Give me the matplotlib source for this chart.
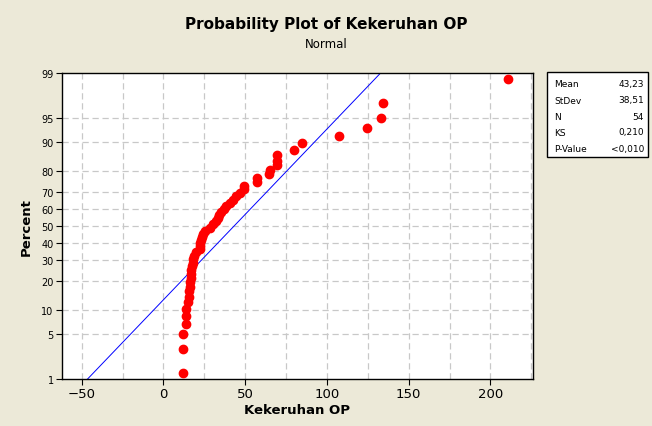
import numpy as np
import matplotlib
matplotlib.use('Agg')
import matplotlib.pyplot as plt
from matplotlib.patches import Rectangle
from statistics import NormalDist

# sorted sample values (n = 54)
values = [12, 12, 12, 14, 14, 14, 15, 15.5, 15.5, 16,
          16, 17, 17, 17, 17.5, 18, 18, 19, 20, 22.5,
          22.5, 22.5, 23, 23.5, 24, 25.5, 28.5, 30.5, 32, 33.5,
          34, 35, 37, 38.5, 41, 42.5, 44.5, 47, 49, 49,
          57.5, 57.5, 64.5, 65, 69.5, 69.5, 69.5, 80, 85, 107.5,
          124.5, 133, 134.5, 210.5]
stat_names = ['Mean', 'StDev', 'N', 'KS', 'P-Value']
stat_vals = ['43,23', '38,51', '54', '0,210', '<0,010']
mean, sd = 43.23, 38.51
yticks = [1, 5, 10, 20, 30, 40, 50, 60, 70, 80, 90, 95, 99]
xticks = [-50, 0, 50, 100, 150, 200]

nd = NormalDist()

def fwd(p):
    p = np.asarray(p, float)
    flat = p.ravel()
    out = np.full(flat.shape, np.nan)
    for k, v in enumerate(flat):
        if 0 < v < 100:
            out[k] = nd.inv_cdf(v / 100.0)
    return out.reshape(p.shape)

def inv(z):
    z = np.asarray(z, float)
    flat = z.ravel()
    out = np.array([nd.cdf(v) * 100 if np.isfinite(v) else np.nan for v in flat])
    return out.reshape(z.shape)

n = len(values)
pct = [(i - 0.3) / (n + 0.4) * 100 for i in range(1, n + 1)]

bg = '#ECE9D8'
fig = plt.figure(figsize=(6.52, 4.27), dpi=100, facecolor=bg)
ax = fig.add_axes([62/652, 1-380/427, (533-62)/652, (380-74)/427])
ax.set_yscale('function', functions=(fwd, inv))
ax.set_xlim(-62, 226)
ax.set_ylim(1, 99)

# grid
for g in np.arange(-50, 226, 25):
    ax.axvline(g, color='#C8C8C8', lw=0.9, ls=(0, (5, 3)), zorder=0)
for t in yticks[1:-1]:
    ax.axhline(t, color='#C8C8C8', lw=0.9, ls=(0, (5, 3)), zorder=0)

# fitted normal line
p_line = [1, 99]
x_line = [mean + sd * nd.inv_cdf(p / 100) for p in p_line]
ax.plot(x_line, p_line, color='#0000FF', lw=0.7, zorder=2)
ax.plot(values, pct, 'o', color='#FF0000', ms=6, mec='#FF0000', zorder=3)

ax.set_yticks(yticks)
ax.set_yticklabels([str(t) for t in yticks])
ax.set_xticks(xticks)
ax.minorticks_off()
ax.tick_params(axis='y', labelsize=7, length=4, width=0.8, pad=2)
ax.tick_params(axis='x', labelsize=9.5, length=4, width=0.8, pad=2)
for s in ax.spines.values():
    s.set_linewidth(1.0)

ax.set_xlabel('Kekeruhan OP', fontsize=9.5, fontweight='bold', labelpad=2)
ax.set_ylabel('Percent', fontsize=9.5, fontweight='bold', labelpad=6)

fig.text(0.5, 1-25/427, 'Probability Plot of Kekeruhan OP', ha='center', va='center',
         fontsize=11, fontweight='bold')
fig.text(0.5, 1-45/427, 'Normal', ha='center', va='center', fontsize=8.5)

# stats box
fig.patches.append(Rectangle((547/652, 1-158/427), 101/652, 85/427, transform=fig.transFigure,
                             facecolor='white', edgecolor='black', lw=1.0))
rows_y = [84.5, 101, 117, 133, 149.5]
for name, val, yy in zip(stat_names, stat_vals, rows_y):
    fig.text(554/652, 1-yy/427, name, ha='left', va='center', fontsize=6.5)
    fig.text(644/652, 1-yy/427, val, ha='right', va='center', fontsize=6.5)

fig.savefig('out.png', dpi=100, facecolor=bg)
